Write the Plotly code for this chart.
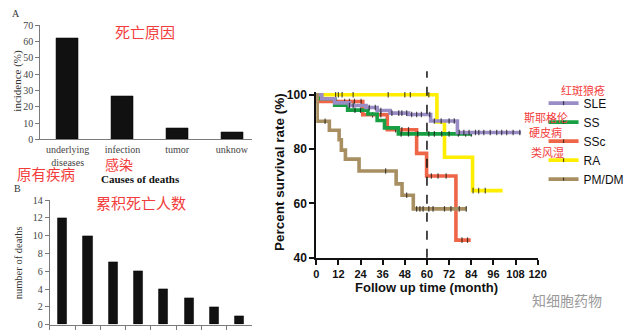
import plotly.graph_objects as go

W, H = 633, 334

# ---------------- data ----------------
# Panel A: causes of death (incidence %)
cause_labels = ["underlying<br>diseases", "infection", "tumor", "unknow"]
cause_incidence = [62.1, 26.4, 6.5, 4.1]

# Panel B: cumulative number of deaths (x labels cut off in the original)
death_bins = ["1", "2", "3", "4", "5", "6", "7", "8"]
death_counts = [12, 10, 7, 6, 4, 3, 2, 1]

# Panel C: Kaplan-Meier survival (step times, step values, end time, censor times)
sle_t = [0, 3, 10, 18, 27, 33, 40, 50, 62, 76.5]
sle_s = [100, 98.5, 97, 96, 95.3, 94.2, 93.2, 92.7, 90.3, 86.1]
sle_end = 111
sle_cens = [18, 20, 28.7, 32, 35, 41, 44.7, 46.4, 49, 51.7, 54.4, 57, 61.5, 64, 67.7, 72, 74.8,
            77.5, 80, 82.8, 86.3, 88.1, 90.8, 94.3, 97.8, 100.5, 103.2, 106.7, 110.3]

ss_t = [0, 2, 10, 17, 28, 33, 37, 44.5]
ss_s = [100, 98.5, 96.1, 94.3, 92.9, 90.5, 87.8, 85.6]
ss_end = 84.5
ss_cens = [21, 24, 46, 50, 55, 61, 64, 68, 72, 77, 81, 84]

ssc_t = [0, 1, 25.2, 38.5, 54.4, 59.8, 75.7]
ssc_s = [100, 97.5, 92.6, 87.1, 78.4, 70.1, 46.5]
ssc_end = 83.7
ssc_cens = [11, 15.4, 18, 20.7, 24.3, 30.5, 35, 43, 46.4, 50, 62.4, 66, 70.4, 79, 82]

ra_t = [0, 65.4, 69.5, 84.7]
ra_s = [100, 90, 77, 64.7]
ra_end = 101
ra_cens = [10.5, 12, 14, 20, 39, 48, 51, 61, 85, 88, 91.6]

pm_t = [0, 0.5, 7.1, 12.4, 13.6, 15.8, 23.2, 43.3, 46.5, 52.6]
pm_s = [100, 90.2, 86.9, 83.4, 79.6, 76.3, 71.9, 67.2, 63.0, 58.0]
pm_end = 81.5
pm_cens = [4.8, 37.6, 49, 54.4, 56.2, 57.9, 61, 63.3, 69.5, 73, 77.5, 81.3]

km_xticks = [0, 12, 24, 36, 48, 60, 72, 84, 96, 108, 120]
km_yticks = [40, 60, 80, 100]
cutoff_month = 60

# ---------------- helpers ----------------
def px(x):
    return x / W

def py(y):
    return 1 - y / H

def step_value(ts, ss, t):
    v = ss[0]
    for ti, si in zip(ts, ss):
        if ti <= t:
            v = si
    return v

def km_points(ts, ss, end, cens):
    pts = [(t, s, 0) for t, s in zip(ts, ss)]
    pts.append((end, ss[-1], 0))
    pts += [(c, step_value(ts, ss, c), 4) for c in cens]
    pts.sort(key=lambda p: (p[0], -p[1]))
    return [p[0] for p in pts], [p[1] for p in pts], [p[2] for p in pts]

serif = "Liberation Serif, Times New Roman, serif"
sans = "Liberation Sans, Arial, sans-serif"
cjk = "Noto Sans CJK SC, sans-serif"
red = "#f23c3c"

fig = go.Figure()

# Panel A bars
fig.add_trace(go.Bar(x=cause_labels, y=cause_incidence, width=0.4,
                     marker=dict(color="#111111", line=dict(color="#000", width=0.5)),
                     xaxis="x", yaxis="y", showlegend=False))
# Panel B bars
fig.add_trace(go.Bar(x=death_bins, y=death_counts, width=0.36,
                     marker=dict(color="#111111", line=dict(color="#000", width=0.5)),
                     xaxis="x2", yaxis="y2", showlegend=False))

# Panel C KM curves (draw order), legend rank keeps legend order
groups = [
    ("RA", ra_t, ra_s, ra_end, ra_cens, "#ffee00", 4),
    ("SSc", ssc_t, ssc_s, ssc_end, ssc_cens, "#ee6647", 3),
    ("SS", ss_t, ss_s, ss_end, ss_cens, "#17a043", 2),
    ("SLE", sle_t, sle_s, sle_end, sle_cens, "#9a8cc4", 1),
    ("PM/DM", pm_t, pm_s, pm_end, pm_cens, "#a88f62", 5),
]
for name, ts, ss, end, cens, col, rank in groups:
    xs, ys, sz = km_points(ts, ss, end, cens)
    fig.add_trace(go.Scatter(
        x=xs, y=ys, name=name, mode="lines+markers", legendrank=rank,
        line=dict(color=col, width=3.6, shape="hv"),
        marker=dict(symbol="line-ns", size=sz, color="#111",
                    line=dict(color="#111", width=1.2)),
        xaxis="x3", yaxis="y3", cliponaxis=False))

# domains
xA = [px(38), px(254)]
yA = [py(138.7), py(20)]
xB = [px(47.7), px(254)]
yB = [py(331.5), py(202)]
xC = [px(319.3), px(545)]
yC = [py(262.0), py(90.0)]
yC_range = [40, 100.8]

axis_gray = "#7a7a7a"
tick_gray = "#444444"

fig.update_layout(
    width=W, height=H,
    margin=dict(l=0, r=0, t=0, b=0),
    paper_bgcolor="white", plot_bgcolor="white",
    bargap=0,
    xaxis=dict(domain=xA, range=[-0.5, 3.37], showline=True, linecolor=axis_gray, linewidth=1,
               ticks="", showgrid=False, zeroline=False, ticklabelstandoff=1,
               tickfont=dict(family=serif, size=10, color=tick_gray)),
    yaxis=dict(domain=yA, range=[0, 70], dtick=10, showline=True, linecolor=axis_gray, linewidth=1,
               ticks="outside", ticklen=4, tickcolor=axis_gray, showgrid=False, zeroline=False,
               tickfont=dict(family=serif, size=10, color=tick_gray)),
    xaxis2=dict(domain=xB, range=[-0.5, 7.5], showline=True, linecolor=axis_gray, linewidth=1,
                ticks="outside", tickson="boundaries", ticklen=4, tickcolor=axis_gray,
                showticklabels=False, showgrid=False, zeroline=False, anchor="y2"),
    yaxis2=dict(domain=yB, range=[0, 14], dtick=2, showline=True, linecolor=axis_gray, linewidth=1,
                ticks="outside", ticklen=4, tickcolor=axis_gray, showgrid=False, zeroline=False,
                anchor="x2", tickfont=dict(family=serif, size=10, color=tick_gray)),
    xaxis3=dict(domain=xC, range=[0, 120], tickvals=km_xticks, showline=True, linecolor="#111",
                linewidth=2, ticks="outside", ticklen=5, tickwidth=2, tickcolor="#111",
                showgrid=False, zeroline=False, anchor="y3",
                tickfont=dict(family=sans, size=11, color="#111", weight="bold")),
    yaxis3=dict(domain=yC, range=yC_range, tickvals=km_yticks, showline=True, linecolor="#111",
                linewidth=2, ticks="outside", ticklen=5, tickwidth=2, tickcolor="#111",
                showgrid=False, zeroline=False, anchor="x3",
                tickfont=dict(family=sans, size=12, color="#111", weight="bold")),
    legend=dict(x=px(551), y=py(86), xanchor="left", yanchor="top", itemwidth=30,
                bgcolor="rgba(0,0,0,0)", tracegroupgap=0,
                font=dict(family=sans, size=12, color="#111")),
)

# dashed cutoff line at 60 months (extends above the plot)
x60 = xC[0] + (cutoff_month - 0) / 120 * (xC[1] - xC[0])
def yc_paper(v):
    return yC[0] + (v - yC_range[0]) / (yC_range[1] - yC_range[0]) * (yC[1] - yC[0])
fig.add_shape(type="line", xref="paper", yref="paper", x0=x60, x1=x60,
              y0=yc_paper(40), y1=yc_paper(108.6),
              line=dict(color="#111", width=1.5, dash="dash"))

annots = [
    # panel labels & axis titles
    dict(text="A", x=13, y=8, font=dict(family=serif, size=10, color="#333")),
    dict(text="B", x=15, y=190, font=dict(family=serif, size=10, color="#333")),
    dict(text="incidence (%)", x=15, y=78, textangle=-90, font=dict(family=serif, size=11, color="#333")),
    dict(text="Causes of deaths", x=140, y=179.5, font=dict(family=serif, size=11, color="#111", weight="bold")),
    dict(text="number of deaths", x=16, y=267, textangle=-90, font=dict(family=serif, size=10.5, color="#333")),
    dict(text="Percent survival rate (%)", x=282, y=173, textangle=-90,
         font=dict(family=sans, size=13.5, color="#111", weight="bold")),
    dict(text="Follow up time (month)", x=432, y=293, font=dict(family=sans, size=13, color="#111", weight="bold")),
    # red Chinese notes
    dict(text="死亡原因", x=145, y=27, font=dict(family=cjk, size=15, color=red)),
    dict(text="原有疾病", x=44, y=174.5, font=dict(family=cjk, size=14.5, color=red)),
    dict(text="感染", x=118, y=164, font=dict(family=cjk, size=14, color=red)),
    dict(text="累积死亡人数", x=141, y=204, font=dict(family=cjk, size=15, color=red)),
    dict(text="红斑狼疮", x=591, y=87, font=dict(family=cjk, size=11, color=red)),
    dict(text="斯耶格伦", x=554, y=115.5, font=dict(family=cjk, size=11, color=red)),
    dict(text="硬皮病", x=553, y=131.5, font=dict(family=cjk, size=11, color=red)),
    dict(text="类风湿", x=555, y=151.5, font=dict(family=cjk, size=11, color=red)),
    dict(text="知细胞药物", x=575, y=306, font=dict(family=cjk, size=14, color="#9a9a9a")),
]
for a in annots:
    fig.add_annotation(text=a["text"], x=px(a["x"]), y=py(a["y"]), xref="paper", yref="paper",
                       showarrow=False, xanchor="center", yanchor="middle",
                       textangle=a.get("textangle", 0), font=a["font"])

fig.write_html("out.html")
